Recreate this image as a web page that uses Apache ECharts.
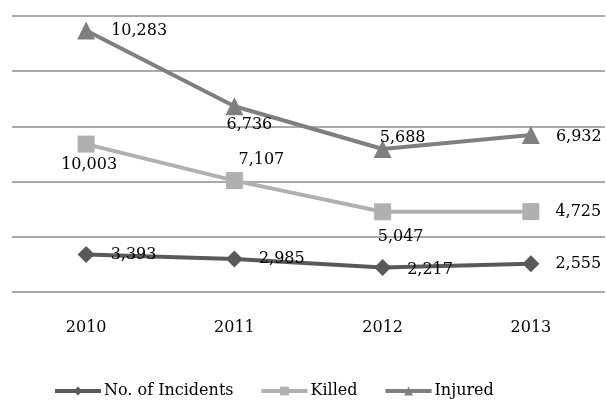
<!DOCTYPE html>
<html><head><meta charset="utf-8">
<script src="https://cdn.jsdelivr.net/npm/echarts@6/dist/echarts.min.js"></script>
<style>html,body{margin:0;padding:0;background:#fff}#c{width:606px;height:402px}</style>
</head><body><div id="c"></div>
<script>
const categories = ['2010', '2011', '2012', '2013'];
const incidents = [3393, 2985, 2217, 2555];
const killed = [10003, 7107, 5047, 4725];
const injured = [10283, 6736, 5688, 6932];

const FONT = '"DejaVu Serif", "Liberation Serif", serif';
const fmt = p => Number(p.value).toLocaleString('en-US');

function withLabels(values, opts) {
  return values.map((v, i) => ({ value: v, label: opts[i] }));
}

const chart = echarts.init(document.getElementById('c'));
chart.setOption({
  animation: false,
  grid: { left: 12, right: 1, top: 16, bottom: 110 },
  xAxis: {
    type: 'category', data: categories, boundaryGap: true,
    axisLine: { show: false }, axisTick: { show: false },
    axisLabel: { color: '#000', fontFamily: FONT, fontSize: 16, margin: 28 }
  },
  yAxis: {
    type: 'value', min: 0, max: 25000, interval: 5000,
    axisLabel: { show: false }, axisLine: { show: false }, axisTick: { show: false },
    splitLine: { lineStyle: { color: '#8c8c8c', width: 1.5 } }
  },
  legend: {
    bottom: -2, left: 48, itemWidth: 46, itemHeight: 11, itemGap: 26,
    lineStyle: { width: 4 },
    textStyle: { color: '#000', fontFamily: FONT, fontSize: 16, padding: [0, 0, 0, -2] },
    data: ['No. of Incidents', 'Killed', 'Injured']
  },
  series: [
    {
      name: 'No. of Incidents', type: 'line', stack: 'total', z: 3,
      symbol: 'diamond', symbolSize: 17,
      itemStyle: { color: '#595959' }, lineStyle: { width: 4, color: '#595959' },
      label: { show: true, formatter: fmt, fontFamily: FONT, fontSize: 16, color: '#000', position: 'right', distance: 16 },
      data: withLabels(incidents, [
        { position: 'right' }, { position: 'right' }, { position: 'right', offset: [0, 2] }, { position: 'right' }
      ])
    },
    {
      name: 'Killed', type: 'line', stack: 'total', z: 2,
      symbol: 'rect', symbolSize: 17,
      itemStyle: { color: '#b0b0b0' }, lineStyle: { width: 4, color: '#b0b0b0' },
      label: { show: true, formatter: fmt, fontFamily: FONT, fontSize: 16, color: '#000', distance: 12 },
      data: withLabels(killed, [
        { position: 'bottom', offset: [3, -8] },
        { position: 'top', offset: [27, 8] },
        { position: 'bottom', offset: [18, -3] },
        { position: 'right', distance: 16 }
      ])
    },
    {
      name: 'Injured', type: 'line', stack: 'total', z: 2,
      symbol: 'triangle', symbolSize: 18,
      itemStyle: { color: '#7f7f7f' }, lineStyle: { width: 4, color: '#7f7f7f' },
      label: { show: true, formatter: fmt, fontFamily: FONT, fontSize: 16, color: '#000', distance: 14 },
      data: withLabels(injured, [
        { position: 'right', distance: 16 },
        { position: 'bottom', offset: [15, -12] },
        { position: 'top', offset: [20, 20] },
        { position: 'right', distance: 16, offset: [0, 2] }
      ])
    }
  ]
});
</script></body></html>
